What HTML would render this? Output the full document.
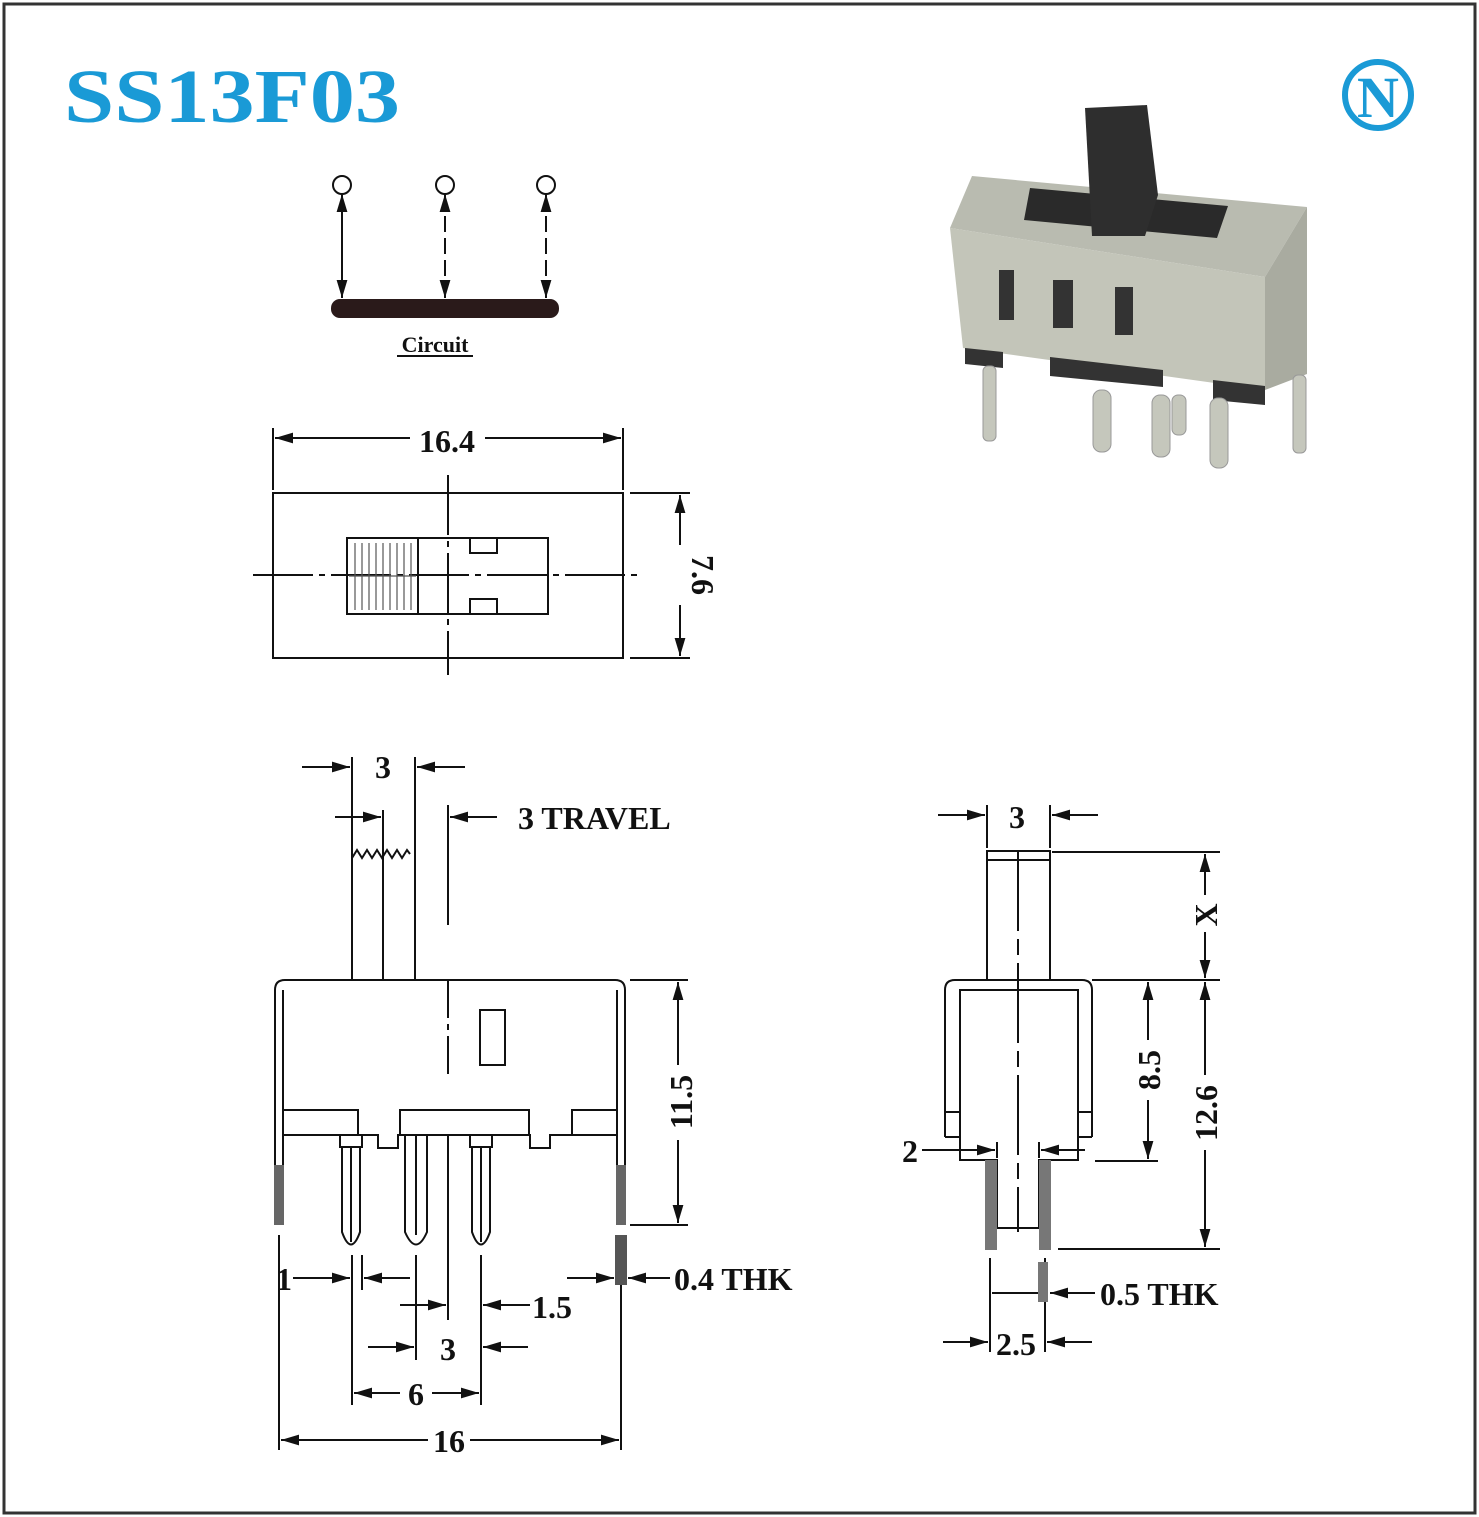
<!DOCTYPE html>
<html><head><meta charset="utf-8"><style>
html,body{margin:0;padding:0;background:#fff}
svg{display:block}
text{font-family:"Liberation Serif",serif;fill:#111;font-weight:bold}
</style></head><body>
<svg width="1479" height="1517" viewBox="0 0 1479 1517" xmlns="http://www.w3.org/2000/svg">
<defs>
<marker id="a" viewBox="0 0 10 10" refX="10" refY="5" markerWidth="9" markerHeight="9" orient="auto-start-reverse"><path d="M0,2 L10,5 L0,8 z" fill="#111"/></marker>
</defs>
<rect x="4" y="4" width="1471" height="1509" fill="none" stroke="#333" stroke-width="3"/>
<text x="64" y="122" font-size="76" font-weight="bold" textLength="336" lengthAdjust="spacingAndGlyphs" style="fill:#1a9ad6">SS13F03</text>
<circle cx="1378" cy="95" r="33" fill="none" stroke="#1a9ad6" stroke-width="6"/>
<text x="1378" y="117" font-size="58" font-weight="bold" text-anchor="middle" style="fill:#1a9ad6">N</text>

<!-- circuit -->
<g stroke="#111" stroke-width="2" fill="none">
<circle cx="342" cy="185" r="9"/><circle cx="445" cy="185" r="9"/><circle cx="546" cy="185" r="9"/>
<line x1="342" y1="194" x2="342" y2="298" marker-start="url(#a)" marker-end="url(#a)"/>
<line x1="445" y1="194" x2="445" y2="298" stroke-dasharray="16 6" marker-start="url(#a)" marker-end="url(#a)"/>
<line x1="546" y1="194" x2="546" y2="298" stroke-dasharray="16 6" marker-start="url(#a)" marker-end="url(#a)"/>
</g>
<rect x="331" y="299" width="228" height="19" rx="9" fill="#2a1a1a"/>
<text x="435" y="352" font-size="22" font-weight="bold" text-anchor="middle">Circuit</text>
<line x1="397" y1="356" x2="473" y2="356" stroke="#111" stroke-width="2"/>

<!-- photo -->
<polygon points="950,228 972,176 1307,207 1265,277" fill="#b9bbb0"/>
<polygon points="950,228 1265,277 1265,390 963,348" fill="#c3c5b9"/>
<polygon points="1265,277 1307,207 1307,374 1265,390" fill="#a9aba0"/>
<polygon points="1030,188 1228,206 1217,238 1024,220" fill="#2a2a2a"/>
<polygon points="1085,108 1147,105 1158,195 1145,236 1092,236" fill="#2e2e2e"/>
<rect x="999" y="270" width="15" height="50" fill="#333"/>
<rect x="1053" y="280" width="20" height="48" fill="#333"/>
<rect x="1115" y="287" width="18" height="48" fill="#333"/>
<polygon points="965,348 1003,352 1003,368 965,364" fill="#333"/>
<polygon points="1050,357 1163,370 1163,387 1050,376" fill="#333"/>
<polygon points="1213,380 1265,386 1265,405 1213,400" fill="#333"/>
<g fill="#c5c7bc" stroke="#999" stroke-width="1">
<rect x="983" y="366" width="13" height="75" rx="5"/>
<rect x="1093" y="390" width="18" height="62" rx="8"/>
<rect x="1152" y="395" width="18" height="62" rx="8"/>
<rect x="1172" y="395" width="14" height="40" rx="6"/>
<rect x="1210" y="398" width="18" height="70" rx="8"/>
<rect x="1293" y="375" width="13" height="78" rx="5"/>
</g>

<!-- top view -->
<g stroke="#111" stroke-width="2" fill="none">
<line x1="273" y1="428" x2="273" y2="490"/><line x1="623" y1="428" x2="623" y2="490"/>
<line x1="275" y1="438" x2="410" y2="438" marker-start="url(#a)"/><line x1="485" y1="438" x2="621" y2="438" marker-end="url(#a)"/>
<rect x="273" y="493" width="350" height="165"/>
<line x1="630" y1="493" x2="690" y2="493"/><line x1="630" y1="658" x2="690" y2="658"/>
<line x1="680" y1="495" x2="680" y2="545" marker-start="url(#a)"/><line x1="680" y1="605" x2="680" y2="656" marker-end="url(#a)"/>
<line x1="253" y1="575" x2="640" y2="575" stroke-dasharray="60 6 6 6"/>
<line x1="448" y1="475" x2="448" y2="675" stroke-dasharray="60 6 6 6"/>
<rect x="347" y="538" width="201" height="76"/>
<line x1="418" y1="538" x2="418" y2="614"/>
<path d="M470,538 v15 h27 v-15 M470,614 v-15 h27 v15"/>
<line x1="440" y1="575" x2="456" y2="575"/><line x1="448" y1="567" x2="448" y2="583"/>
</g>
<g stroke="#555" stroke-width="1.2">
<line x1="355" y1="543" x2="355" y2="610"/><line x1="362" y1="543" x2="362" y2="610"/><line x1="369" y1="543" x2="369" y2="610"/><line x1="376" y1="543" x2="376" y2="610"/><line x1="383" y1="543" x2="383" y2="610"/><line x1="390" y1="543" x2="390" y2="610"/><line x1="397" y1="543" x2="397" y2="610"/><line x1="404" y1="543" x2="404" y2="610"/><line x1="411" y1="543" x2="411" y2="610"/>
<line x1="349" y1="576" x2="416" y2="576"/>
</g>
<text x="447" y="452" font-size="32" text-anchor="middle">16.4</text>
<text x="0" y="0" font-size="32" text-anchor="middle" transform="translate(692,575) rotate(90)">7.6</text>

<!-- side view -->
<g stroke="#111" stroke-width="2" fill="none">
<line x1="352" y1="757" x2="352" y2="980"/><line x1="415" y1="757" x2="415" y2="980"/><line x1="383" y1="810" x2="383" y2="980"/>
<path d="M352,858 l5,-8 l5,8 l5,-8 l5,8 l5,-8 l5,8 l5,-8 l5,8 l5,-8 l5,8 l5,-8 l3,4"/>
<line x1="302" y1="767" x2="350" y2="767" marker-end="url(#a)"/><line x1="465" y1="767" x2="417" y2="767" marker-end="url(#a)"/>
<line x1="335" y1="817" x2="381" y2="817" marker-end="url(#a)"/><line x1="497" y1="817" x2="450" y2="817" marker-end="url(#a)"/>
<line x1="448" y1="805" x2="448" y2="925"/>
<path d="M275,1225 V990 q0,-10 10,-10 H615 q10,0 10,10 V1225"/>
<line x1="283" y1="990" x2="283" y2="1225"/><line x1="617" y1="990" x2="617" y2="1225"/>
<line x1="448" y1="980" x2="448" y2="1080" stroke-dasharray="38 6 6 6"/>
<rect x="480" y="1010" width="25" height="55"/>
<path d="M283,1110 H358 V1135 M400,1135 V1110 H529 V1135 M572,1135 V1110 H617"/>
<path d="M283,1135 H378 V1148 H398 V1135 H530 V1148 H550 V1135 H617"/>
<path d="M340,1135 h22 v12 h-22 z M342,1147 v85 q9,25 18,0 v-85 M351,1147 v95"/>
<path d="M405,1135 v97 q11,25 22,0 v-97 M416,1135 v100"/>
<path d="M470,1135 h22 v12 h-22 z M472,1147 v85 q9,25 18,0 v-85 M481,1147 v95"/>
<line x1="448" y1="1135" x2="448" y2="1320"/>
<line x1="630" y1="980" x2="688" y2="980"/><line x1="630" y1="1225" x2="688" y2="1225"/>
<line x1="678" y1="982" x2="678" y2="1065" marker-start="url(#a)"/><line x1="678" y1="1140" x2="678" y2="1223" marker-end="url(#a)"/>
<line x1="279" y1="1235" x2="279" y2="1450"/><line x1="621" y1="1235" x2="621" y2="1450"/>
<line x1="352" y1="1255" x2="352" y2="1405"/><line x1="362" y1="1255" x2="362" y2="1290"/>
<line x1="416" y1="1255" x2="416" y2="1360"/><line x1="481" y1="1255" x2="481" y2="1405"/>
<line x1="293" y1="1278" x2="350" y2="1278" marker-end="url(#a)"/><line x1="410" y1="1278" x2="364" y2="1278" marker-end="url(#a)"/>
<line x1="400" y1="1305" x2="446" y2="1305" marker-end="url(#a)"/><line x1="530" y1="1305" x2="483" y2="1305" marker-end="url(#a)"/>
<line x1="368" y1="1347" x2="414" y2="1347" marker-end="url(#a)"/><line x1="528" y1="1347" x2="483" y2="1347" marker-end="url(#a)"/>
<line x1="354" y1="1393" x2="400" y2="1393" marker-start="url(#a)"/><line x1="432" y1="1393" x2="479" y2="1393" marker-end="url(#a)"/>
<line x1="281" y1="1440" x2="428" y2="1440" marker-start="url(#a)"/><line x1="470" y1="1440" x2="619" y2="1440" marker-end="url(#a)"/>
<line x1="567" y1="1278" x2="614" y2="1278" marker-end="url(#a)"/><line x1="670" y1="1278" x2="628" y2="1278" marker-end="url(#a)"/>
</g>
<rect x="274" y="1165" width="10" height="60" fill="#666"/><rect x="616" y="1165" width="10" height="60" fill="#666"/>
<rect x="615" y="1235" width="12" height="50" fill="#555"/>
<text x="383" y="778" font-size="32" text-anchor="middle">3</text>
<text x="518" y="829" font-size="32">3 TRAVEL</text>
<text x="0" y="0" font-size="32" text-anchor="middle" transform="translate(692,1102) rotate(-90)">11.5</text>
<text x="284" y="1290" font-size="32" text-anchor="middle">1</text>
<text x="552" y="1318" font-size="32" text-anchor="middle">1.5</text>
<text x="448" y="1360" font-size="32" text-anchor="middle">3</text>
<text x="416" y="1405" font-size="32" text-anchor="middle">6</text>
<text x="449" y="1452" font-size="32" text-anchor="middle">16</text>
<text x="674" y="1290" font-size="32">0.4 THK</text>

<!-- end view -->
<g stroke="#111" stroke-width="2" fill="none">
<line x1="987" y1="805" x2="987" y2="848"/><line x1="1050" y1="805" x2="1050" y2="848"/>
<line x1="938" y1="815" x2="985" y2="815" marker-end="url(#a)"/><line x1="1098" y1="815" x2="1052" y2="815" marker-end="url(#a)"/>
<rect x="987" y="851" width="63" height="129"/><line x1="987" y1="860" x2="1050" y2="860"/>
<line x1="1018" y1="851" x2="1018" y2="1232" stroke-dasharray="80 8 16 8"/>
<path d="M945,1137 V990 q0,-10 10,-10 H1082 q10,0 10,10 V1137"/>
<path d="M945,1137 H960 V990 H1078 V1137 H1092"/>
<line x1="945" y1="1112" x2="960" y2="1112"/><line x1="1078" y1="1112" x2="1092" y2="1112"/>
<path d="M960,1137 V1160 H997 V1228 H1039 V1160 H1078 V1137"/>
<line x1="1052" y1="852" x2="1220" y2="852"/><line x1="1092" y1="980" x2="1220" y2="980"/>
<line x1="1095" y1="1161" x2="1158" y2="1161"/><line x1="1058" y1="1249" x2="1220" y2="1249"/>
<line x1="1205" y1="854" x2="1205" y2="895" marker-start="url(#a)"/><line x1="1205" y1="932" x2="1205" y2="978" marker-end="url(#a)"/>
<line x1="1205" y1="982" x2="1205" y2="1075" marker-start="url(#a)"/><line x1="1205" y1="1150" x2="1205" y2="1247" marker-end="url(#a)"/>
<line x1="1148" y1="982" x2="1148" y2="1040" marker-start="url(#a)"/><line x1="1148" y1="1100" x2="1148" y2="1159" marker-end="url(#a)"/>
<line x1="922" y1="1150" x2="995" y2="1150" marker-end="url(#a)"/><line x1="997" y1="1142" x2="997" y2="1158"/>
<line x1="1085" y1="1150" x2="1041" y2="1150" marker-end="url(#a)"/><line x1="1039" y1="1142" x2="1039" y2="1158"/>
<line x1="990" y1="1258" x2="990" y2="1352"/><line x1="1045" y1="1258" x2="1045" y2="1352"/>
<line x1="992" y1="1293" x2="1038" y2="1293"/><line x1="1095" y1="1293" x2="1050" y2="1293" marker-end="url(#a)"/>
<line x1="943" y1="1342" x2="988" y2="1342" marker-end="url(#a)"/><line x1="1092" y1="1342" x2="1047" y2="1342" marker-end="url(#a)"/>
</g>
<rect x="985" y="1160" width="12" height="90" fill="#777"/><rect x="1039" y="1160" width="12" height="90" fill="#777"/>
<rect x="1038" y="1262" width="10" height="40" fill="#777"/>
<text x="1017" y="828" font-size="32" text-anchor="middle">3</text>
<text x="0" y="0" font-size="32" text-anchor="middle" transform="translate(1217,915) rotate(-90)">X</text>
<text x="0" y="0" font-size="32" text-anchor="middle" transform="translate(1160,1070) rotate(-90)">8.5</text>
<text x="0" y="0" font-size="32" text-anchor="middle" transform="translate(1217,1113) rotate(-90)">12.6</text>
<text x="910" y="1162" font-size="32" text-anchor="middle">2</text>
<text x="1100" y="1305" font-size="32">0.5 THK</text>
<text x="1016" y="1355" font-size="32" text-anchor="middle">2.5</text>
</svg>
</body></html>
